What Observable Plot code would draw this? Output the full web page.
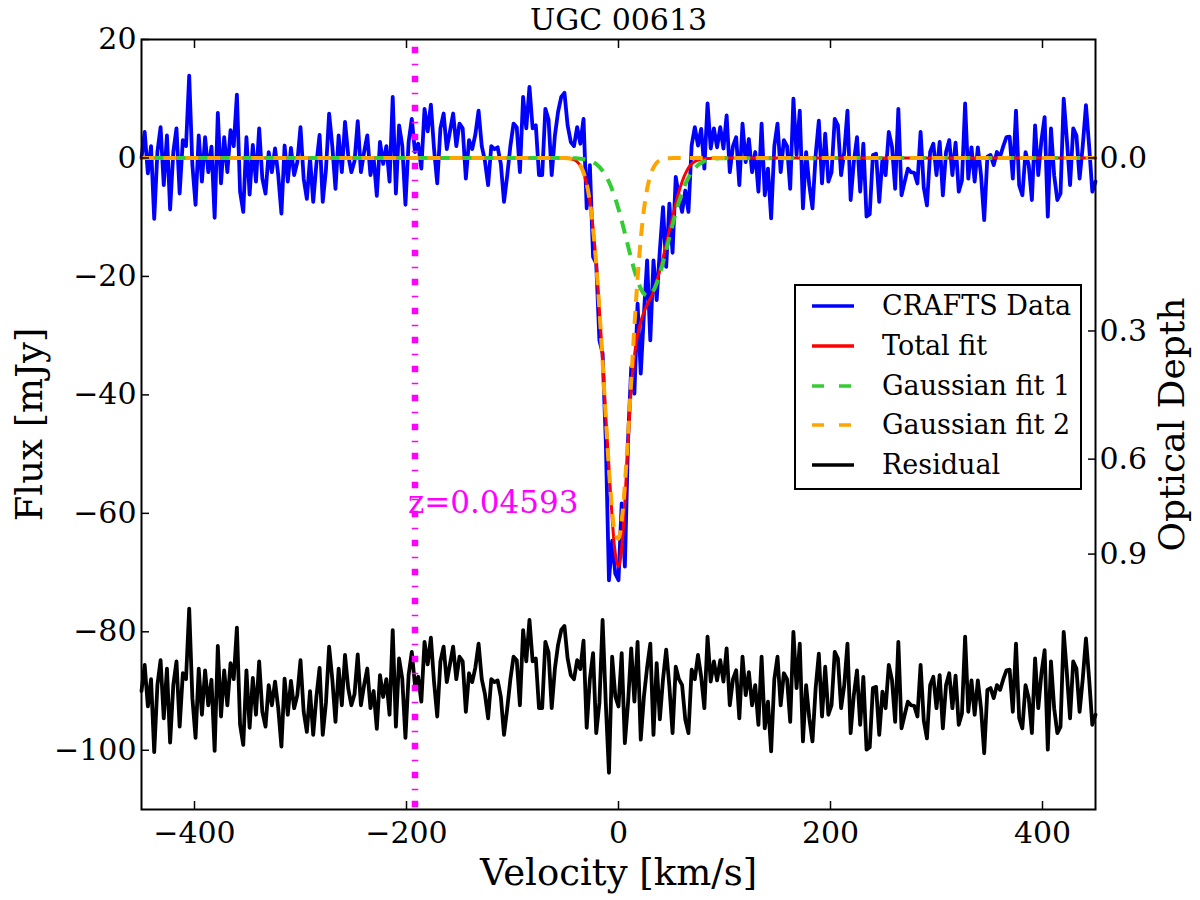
<!DOCTYPE html>
<html>
<head>
<meta charset="utf-8">
<script src="https://cdn.jsdelivr.net/npm/d3@7"></script>
<script src="https://cdn.jsdelivr.net/npm/@observablehq/plot@0.6"></script>
<style>
  body { margin: 0; background: #fff; }
  #chart { position: relative; width: 1200px; height: 900px; font-family: "DejaVu Serif", serif; }
  #legend { position: absolute; left: 794px; top: 284px; width: 284px; height: 202px;
            border: 2px solid #000; background: #fff; }
  #legend .row { position: absolute; left: 0; height: 30px; width: 280px; }
  #legend svg { position: absolute; left: 16px; top: 0; }
  #legend span { position: absolute; left: 86px; top: 0; line-height: 30px; font-size: 27px; color: #000; white-space: nowrap; }
</style>
</head>
<body>
<div id="chart"></div>
<script>
// channel grid of the spectrum (km/s)
const vStart = -450, vStep = 3
// CRAFTS data, mJy, one value per channel, 10 channels per row
const flux = [
  0, 4.4, -2.6, 2, -10.3, 1, 5.2, -4.6, 3.8, -8.7,          // -450
  1, 5, -6, 3, 2, 13.9, -1.2, -7.9, 3.8, -4,                 // -420
  3.5, -2.4, 1.9, -10.1, 7.6, -4.3, 3.5, -2.4, 4.7, 2,       // -390
  10.7, -5.7, -9.1, 3.5, -6.2, 2.2, -4, 5, -3.5, -6,         // -360
  1, -2.4, 1.6, -2.9, -9.4, 2.1, -4, 1.7, -2.9, -0.7,        // -330
  5.2, -3.5, -6.9, 0, -7.4, -1, 3.9, -7.4, -2, 7.5,          // -300
  2, -5.2, 3.8, -2.4, 6.1, 0.5, -2.4, -0.5, 6.2, -2.4,       // -270
  1, 3.8, -2.9, 0, -6.4, 2.7, -1, 2, -4, 10.3,               // -240
  -6, 5.5, 2.1, -7.9, 2.7, 6.6, 1, 2.4, -1.8, 8.3,           // -210
  4.5, 9, 1.5, -4.3, 5, 7.5, 1.5, 4.5, 7.5, 2,               // -180
  5.8, 5, -3.5, 3, 1.5, 4, 8, 2, -0.5, -4.6,                 // -150
  2, 1.5, 1.8, -1, -7.4, -3, 2, 5.8, 5.2, -2.4,              // -120
  10.3, 5, 12, 5, 5.5, -2.9, -2.9, 8.3, 6.5, -2.9,           // -90
  3.8, 7.8, 10.3, 11, 5.5, 2.7, 2, 5.2, 2.4, 6.6,            // -60
  -8.5, -1.2, -16.7, -17.8, -30.8, -33, -47.7, -71.3, -64.6, -70.2, // -30
  -71.3, -58.3, -69, -47.7, -35.3, -39.8, -24.6, -36.4, -26.3, -17.3, // 0
  -30.8, -17.3, -24, -15.6, -8.3, -18.4, -7.7, -16, -3.2, -6.6,       // 30
  -9.1, -5.5, -9.1, 2.1, 5.2, 2.1, 4.9, -1.8, 9.2, 1.6,      // 60
  5, 1.8, 5.2, 1.6, 7.2, -2.4, 2, 3.5, -4.6, 5.8,            // 90
  -0.7, 3.2, -2.4, 1, -5.7, 5.8, -6.3, -1.8, -10.2, 2,       // 120
  5.8, -2.4, 3, 2, -5.2, 10, 0.5, 8, -8.5, 1,                // 150
  -4.6, -8.5, 0.5, 6.3, -4.3, 4.1, -4, -2.4, 6.6, 5.5,       // 180
  -2.9, 1, 8, -7.1, -0.7, 3.5, -5.7, 2.4, -9.9, -9.5,        // 210
  0.5, 0.7, -7.4, -0.1, -2.9, 4.4, 1.9, -5.2, 8.3, -6.3,     // 240
  -4, -1.8, -2.4, -2.5, -4.3, 4.4, -5, -8, 1, 2.4,           // 270
  -2.9, 2.7, -6.3, 1, 3, -2.9, 2.6, -5.7, -3.8, 9.2,         // 300
  -3.5, 1.8, -4, 1.8, -2.9, -10.5, 0.2, 0.5, -1.2, 1,        // 330
  0.2, 2, 3.5, 3.6, -3.5, 8, -4.6, -6.3, 1, -1.2,            // 360
  -7.1, 5.5, -2.9, 3, 6.9, -9.9, 5, -2.9, -7.1, -6,          // 390
  10, 3, -4.6, 5, 3.8, -3.5, 2.1, 8.9, 2, -5.7,              // 420
  -4                                                         // 450
]
// residual as drawn (shifted down to about -90 mJy)
const residual = [
  -90, -85.6, -92.6, -88, -100.3, -89, -84.8, -94.6, -86.2, -98.7,   // -450
  -89, -85, -96, -87, -88, -76.1, -91.2, -97.9, -86.2, -94,          // -420
  -86.5, -92.4, -88.1, -100.1, -82.4, -94.3, -86.5, -92.4, -85.3, -88, // -390
  -79.3, -95.7, -99.1, -86.5, -96.2, -87.8, -94, -85, -93.5, -96,    // -360
  -89, -92.4, -88.4, -92.9, -99.4, -87.9, -94, -88.3, -92.9, -90.7,  // -330
  -84.8, -93.5, -96.9, -90, -97.4, -91, -86.1, -97.4, -92, -82.5,    // -300
  -88, -95.2, -86.2, -92.4, -83.9, -89.5, -92.4, -90.5, -83.8, -92.4, // -270
  -89, -86.2, -92.9, -90, -96.4, -87.3, -91, -88, -94, -79.7,        // -240
  -96, -84.5, -87.9, -97.9, -87.3, -83.4, -89, -87.6, -91.8, -81.7,  // -210
  -85.5, -81, -88.5, -94.3, -85, -82.5, -88.5, -85.5, -82.5, -88,    // -180
  -84.2, -85, -93.5, -87, -88.5, -86, -82, -88, -90.5, -94.6,        // -150
  -88, -88.5, -88.2, -91, -97.4, -93, -88, -84.2, -84.8, -92.4,      // -120
  -79.7, -85, -78, -85, -84.5, -92.9, -92.9, -81.7, -83.5, -92.9,    // -90
  -86.2, -82.2, -79.7, -79, -84.5, -87.3, -88, -84.8, -86.3, -81.5,  // -60
  -96.2, -88, -83.6, -97.1, -92, -78, -92, -103.8, -84.2, -90.9,     // -30
  -92.6, -83.6, -98.8, -92, -82.8, -91.8, -81.7, -98.2, -90.9, -86,  // 0
  -82, -97.4, -85.3, -94.8, -88, -83, -89.2, -97.1, -85.9, -88,      // 30
  -89, -94.8, -97.1, -86.4, -88, -83.9, -87.6, -92.9, -80.8, -88.4,  // 60
  -85, -88.2, -84.8, -88.4, -82.8, -92.4, -88, -86.5, -94.6, -84.2,  // 90
  -90.7, -86.8, -92.4, -89, -95.7, -84.2, -96.3, -91.8, -100.2, -88, // 120
  -84.2, -92.4, -87, -88, -95.2, -80, -89.5, -82, -98.5, -89,        // 150
  -94.6, -98.5, -89.5, -83.7, -94.3, -85.9, -94, -92.4, -83.4, -84.5, // 180
  -92.9, -89, -82, -97.1, -90.7, -86.5, -95.7, -87.6, -99.9, -99.5,  // 210
  -89.5, -89.3, -97.4, -90.1, -92.9, -85.6, -88.1, -95.2, -81.7, -96.3, // 240
  -94, -91.8, -92.4, -92.5, -94.3, -85.6, -95, -98, -89, -87.6,      // 270
  -92.9, -87.3, -96.3, -89, -87, -92.9, -87.4, -95.7, -93.8, -80.8,  // 300
  -93.5, -88.2, -94, -88.2, -92.9, -100.5, -89.8, -89.5, -91.2, -89, // 330
  -89.8, -88, -86.5, -86.4, -93.5, -82, -94.6, -96.3, -89, -91.2,    // 360
  -97.1, -84.5, -92.9, -87, -83.1, -99.9, -85, -92.9, -97.1, -96,    // 390
  -80, -87, -94.6, -85, -86.2, -93.5, -87.9, -81.1, -88, -95.7,      // 420
  -94                                                                // 450
]

// fit curves, sampled at these velocities
const fitVel = [-450, -52, -48, -44, -40, -36, -32, -28, -24, -20, -16, -12, -8, -4, 0, 4, 8, 12, 16, 20,
  24, 28, 32, 36, 40, 44, 48, 52, 56, 60, 64, 68, 72, 76, 80, 84, 88, 92, 96, 450]
const fitTotal = [0, 0, -0.05, -0.17, -0.5, -1.3, -3.0, -6.2, -11.8, -20.2, -31.2, -43.5, -55.2, -65.3, -69.0, -63.8, -51.5, -39.0, -32.0, -28.3,
  -26.0, -24.4, -23.0, -20.8, -18.3, -15.4, -12.2, -9.2, -6.3, -4.0, -2.3, -1.2, -0.6, -0.3, -0.15, -0.08, -0.03, 0, 0, 0]
const fitG1 = [0, -0.01, -0.01, -0.03, -0.06, -0.12, -0.22, -0.41, -0.71, -1.2, -1.94, -2.99, -4.44, -6.32, -8.62, -11.27, -14.13, -16.99, -19.58, -21.64,
  -22.93, -23.29, -22.69, -21.19, -18.97, -16.29, -13.41, -10.58, -8.01, -5.81, -4.04, -2.7, -1.72, -1.06, -0.62, -0.35, -0.19, -0.1, -0.05, 0]
const fitG2 = [0, -0.02, -0.05, -0.17, -0.5, -1.28, -2.98, -6.26, -11.87, -20.32, -31.4, -43.8, -55.14, -62.67, -64.29, -59.54, -49.78, -37.56, -25.58, -15.73,
  -8.73, -4.38, -1.98, -0.81, -0.3, -0.1, -0.03, 0, 0, 0, 0, 0, 0, 0, 0, 0, 0, 0, 0, 0]

// redshift marker
const zLineVel = [-192]
const zLabel = ["z=0.04593"]
const zLabelFlux = -58.2

// axes
const xTicks = [-400, -200, 0, 200, 400]
const yTicks = [-100, -80, -60, -40, -20, 0, 20]
const tauTicks = [0.0, 0.3, 0.6, 0.9]
const continuum = 112.7   // mJy, for the optical depth axis

const title = "UGC 00613"
const xLabel = "Velocity [km/s]"
const yLabel = "Flux [mJy]"
const y2Label = "Optical Depth"

const legendLabels = ["CRAFTS Data", "Total fit", "Gaussian fit 1", "Gaussian fit 2", "Residual"]
const legendColors = ["#0000ff", "#ff0000", "#33cc33", "#ffa500", "#000000"]
const legendDash = [null, null, "12,15", "12,15", null]

const spec = flux.map((f, i) => ({v: vStart + i * vStep, flux: f, resid: residual[i]}))
const fits = fitVel.map((v, i) => ({v, total: fitTotal[i], g1: fitG1[i], g2: fitG2[i]}))

const tauFlux = tauTicks.map(t => -continuum * (1 - Math.exp(-t)))
const tauLabel = new Map(tauFlux.map((f, i) => [f, tauTicks[i].toFixed(1)]))

let chart = Plot.plot({
  width: 1200,
  height: 900,
  marginLeft: 141,
  marginRight: 105,
  marginTop: 39,
  marginBottom: 91,
  style: {fontFamily: "DejaVu Serif", background: "white", color: "black"},
  x: {domain: [-450, 450]},
  y: {domain: [-110, 20]},
  marks: [
    Plot.line(spec, {x: "v", y: "flux", stroke: "#0000ff", strokeWidth: 3.8}),
    Plot.line(spec, {x: "v", y: "resid", stroke: "#000000", strokeWidth: 3.8}),
    Plot.line(fits, {x: "v", y: "total", stroke: "#ff0000", strokeWidth: 3, curve: "monotone-x"}),
    Plot.line(fits, {x: "v", y: "g1", stroke: "#33cc33", strokeWidth: 4, curve: "monotone-x",
      strokeDasharray: "13,9", strokeDashoffset: 9, strokeLinecap: "butt"}),
    Plot.line(fits, {x: "v", y: "g2", stroke: "#ffa500", strokeWidth: 4, curve: "monotone-x",
      strokeDasharray: "13,9", strokeLinecap: "butt"}),
    Plot.ruleX(zLineVel, {stroke: "#ff00ff", strokeWidth: 6.5, strokeDasharray: "6.5,10.5,1.5,10.5",
      strokeDashoffset: -7.7, strokeLinecap: "butt"}),
    Plot.text(zLabel, {x: zLineVel[0], y: zLabelFlux, text: d => d, dx: -7, textAnchor: "start",
      fill: "#ff00ff", fontSize: 31}),
    Plot.frame({stroke: "black", strokeWidth: 2}),
    Plot.axisX(xTicks, {anchor: "bottom", tickSize: -8, tickPadding: 20, fontSize: 30, label: null, strokeWidth: 1.5}),
    Plot.axisX(xTicks, {anchor: "top", tickSize: -8, tickFormat: () => "", label: null, strokeWidth: 1.5}),
    Plot.axisY(yTicks, {anchor: "left", tickSize: -8, tickPadding: 13, fontSize: 30, label: null, strokeWidth: 1.5}),
    Plot.axisY(tauFlux, {anchor: "right", tickSize: -8, tickPadding: 12, fontSize: 30, label: null, strokeWidth: 1.5,
      tickFormat: d => tauLabel.get(d)}),
    Plot.text([title], {frameAnchor: "top", text: d => d, dy: -19, lineAnchor: "middle", fontSize: 30}),
    Plot.text([xLabel], {frameAnchor: "bottom", text: d => d, dy: 64, lineAnchor: "middle", fontSize: 37}),
    Plot.text([yLabel], {frameAnchor: "left", text: d => d, dx: -111, rotate: -90,
      textAnchor: "middle", lineAnchor: "middle", fontSize: 37}),
    Plot.text([y2Label], {frameAnchor: "right", text: d => d, dx: 77, rotate: -90,
      textAnchor: "middle", lineAnchor: "middle", fontSize: 36})
  ]
})
d3.select('#chart').append(() => chart)

// legend box inside the plot area
const legend = d3.select('#chart').append('div').attr('id', 'legend')
const rowCenters = [20, 60, 99.7, 139, 179]
legendLabels.forEach((label, i) => {
  const row = legend.append('div').attr('class', 'row').style('top', (rowCenters[i] - 15) + 'px')
  const sw = row.append('svg').attr('width', 44).attr('height', 30)
  sw.append('line').attr('x1', 0).attr('x2', 42).attr('y1', 15).attr('y2', 15)
    .attr('stroke', legendColors[i]).attr('stroke-width', 3.3)
    .attr('stroke-dasharray', legendDash[i])
  row.append('span').text(label)
})
</script>
</body>
</html>
